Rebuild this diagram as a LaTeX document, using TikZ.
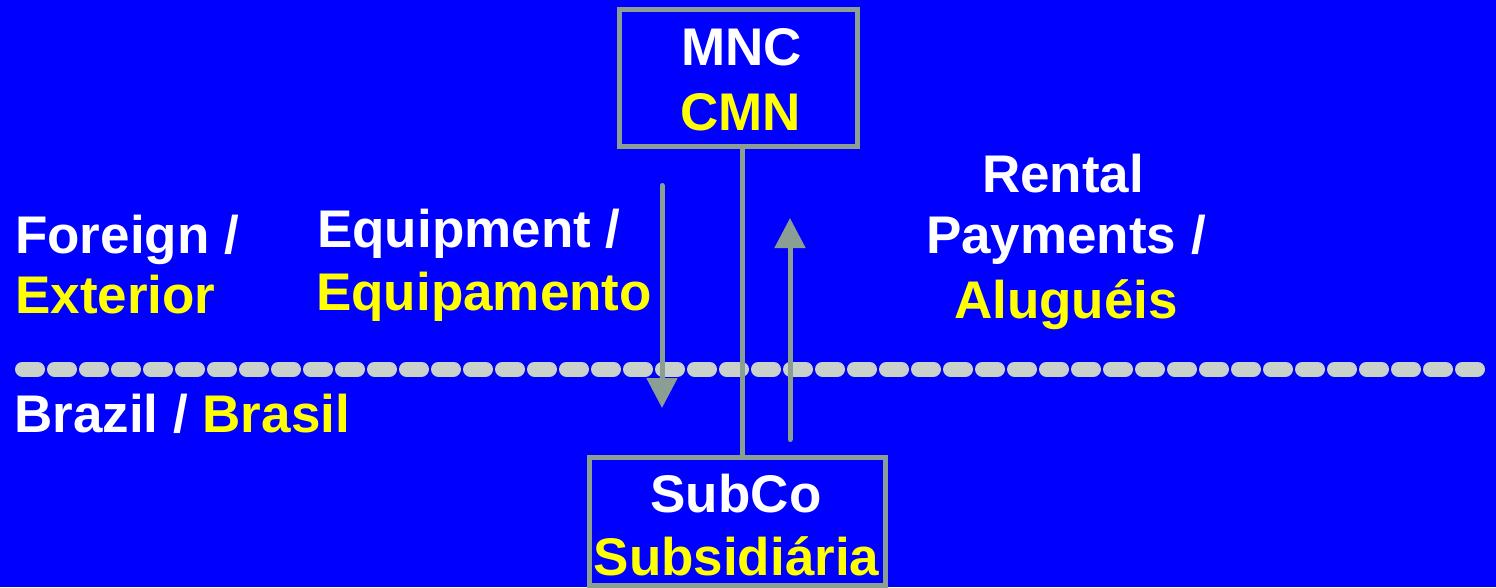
\documentclass[tikz,border=0pt]{standalone}
\usepackage{fontspec}
\setmainfont{Liberation Sans}
\usetikzlibrary{arrows.meta}
\definecolor{bg}{RGB}{0,0,255}
\definecolor{ln}{RGB}{138,158,148}
\definecolor{dashc}{RGB}{200,210,203}
\definecolor{yel}{RGB}{255,255,0}
\begin{document}
\begin{tikzpicture}[x=1pt,y=-1pt,
  lbl/.style={inner sep=0pt, font=\bfseries\fontsize{53}{64}\selectfont, text=white},
  ylbl/.style={lbl, text=yel},
  boxnode/.style={draw=ln, line width=5pt, inner sep=0pt},
  conn/.style={draw=ln, line width=5pt},
  flow/.style={conn, line cap=round, -{Triangle[width=30pt,length=30pt]}},
  border/.style={draw=dashc, line width=15pt, line cap=round, dash pattern=on 15pt off 17pt}]
\useasboundingbox (0,0) rectangle (1496,587);
\fill[bg] (0,0) rectangle (1496,587);
% border line
\coordinate (bl) at (22.5,369);
\coordinate (br) at (1478.5,369);
\draw[border] (bl) -- (br);
% boxes
\node[boxnode, minimum width=238.5pt, minimum height=137pt] (mncbox) at (738.25,78) {};
\node[boxnode, minimum width=296pt, minimum height=127.5pt] (subbox) at (737.5,521.25) {};
% texts
\node[lbl, anchor=base] (mnc) at (741.5,65) {MNC};
\node[ylbl, anchor=base] (cmn) at (740.5,130) {CMN};
\node[lbl, anchor=base] (subco) at (736,512) {SubCo};
\node[ylbl, anchor=base] (subs) at (736.5,575) {Subsidiária};
\node[lbl, anchor=base west] (foreign) at (15,253) {Foreign /};
\node[ylbl, anchor=base west] (exterior) at (15,313) {Exterior};
\node[lbl, anchor=base west] (equip) at (317,247) {Equipment /};
\node[ylbl, anchor=base west] (equipa) at (316,310) {Equipamento};
\node[lbl, anchor=base] (rental) at (1063,192) {Rental};
\node[lbl, anchor=base] (payments) at (1066,253) {Payments /};
\node[ylbl, anchor=base] (alugueis) at (1066,318) {Aluguéis};
\node[lbl, anchor=base west] (brazil) at (14,432) {Brazil / \textcolor{yel}{Brasil}};
% connectors
\draw[conn] (742.5,0 |- mncbox.south) -- (742.5,0 |- subbox.north);
\coordinate (eqs) at (662,185.5);
\coordinate (eqe) at (662,408);
\draw[flow] (eqs) -- (eqe);
\coordinate (rps) at (790,439.5);
\coordinate (rpe) at (790,218);
\draw[flow] (rps) -- (rpe);
\end{tikzpicture}
\end{document}
